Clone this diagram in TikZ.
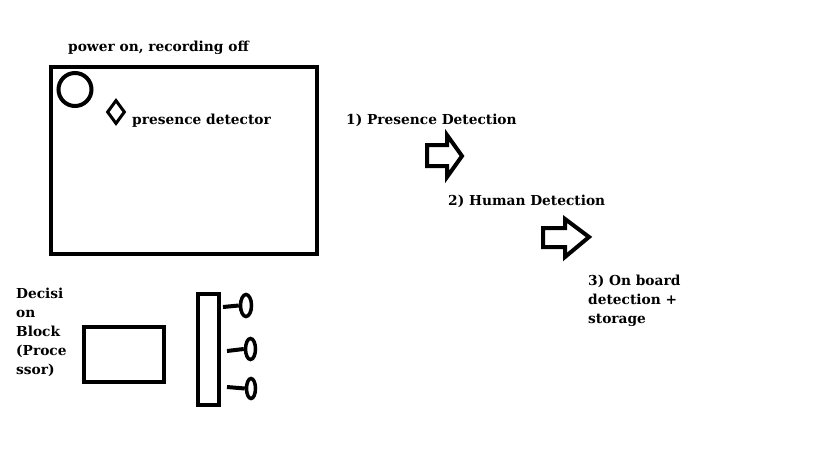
\documentclass[tikz,border=0pt]{standalone}
\usepackage{fontspec}
\setmainfont{DejaVu Serif}
\usetikzlibrary{shapes.geometric}
\begin{document}
\begin{tikzpicture}[x=1pt,y=-1pt,
  thick line/.style={line width=4pt, line join=miter},
  lbl/.style={anchor=west, inner sep=0pt, font=\fontsize{13.75}{19}\selectfont\bfseries, align=left},
  fat arrow/.style={line width=4pt, line join=miter},
  pin/.style={draw, line width=3.5pt, ellipse, inner sep=0pt}
]
\useasboundingbox[fill=white] (0,0) rectangle (819,460);
% main box
\node[draw, thick line, minimum width=266pt, minimum height=187pt, inner sep=0pt] (main) at (184,160.5) {};
\node[draw, line width=4pt, circle, minimum size=33pt, inner sep=0pt] (led) at (75,89.5) {};
\node[draw, line width=3pt, diamond, aspect=0.75, minimum width=18pt, minimum height=24pt, inner sep=0pt] (diam) at (116,112) {};
\node[lbl] (pwr) at (68,48) {power on, recording off};
\node[lbl] (pres) at (132,121) {presence detector};
% steps
\node[lbl] (s1) at (346,120) {1) Presence Detection};
\node[lbl] (s2) at (448,201) {2) Human Detection};
\node[lbl, anchor=north west] (s3) at (588,275) {3) On board\\detection +\\storage};
% arrows
\draw[fat arrow] (427,145) -- (447,145) -- (447,135) -- (462,156) -- (447,177) -- (447,166) -- (427,166) -- cycle;
\draw[fat arrow] (543,228) -- (565,228) -- (565,219) -- (589,237) -- (565,257) -- (565,247) -- (543,247) -- cycle;
% decision block
\node[lbl, anchor=north west] (dec) at (16,288) {Decisi\\on\\Block\\(Proce\\ssor)};
\node[draw, thick line, minimum width=80pt, minimum height=55pt, inner sep=0pt] (proc) at (124,354.5) {};
\node[draw, thick line, minimum width=21pt, minimum height=111pt, inner sep=0pt] (bar) at (208.5,349.5) {};
% pins
\node[pin, minimum width=11pt, minimum height=22pt] (p1) at (246,305.5) {};
\node[pin, minimum width=10pt, minimum height=21pt] (p2) at (250.5,349) {};
\node[pin, minimum width=9pt, minimum height=20pt] (p3) at (251,388.5) {};
\coordinate (c1) at (223,307);
\coordinate (c2) at (227,351);
\coordinate (c3) at (227,387);
\draw[line width=4pt] (c1) -- (p1.west);
\draw[line width=4pt] (c2) -- (p2.west);
\draw[line width=4pt] (c3) -- (p3.west);
\end{tikzpicture}
\end{document}
